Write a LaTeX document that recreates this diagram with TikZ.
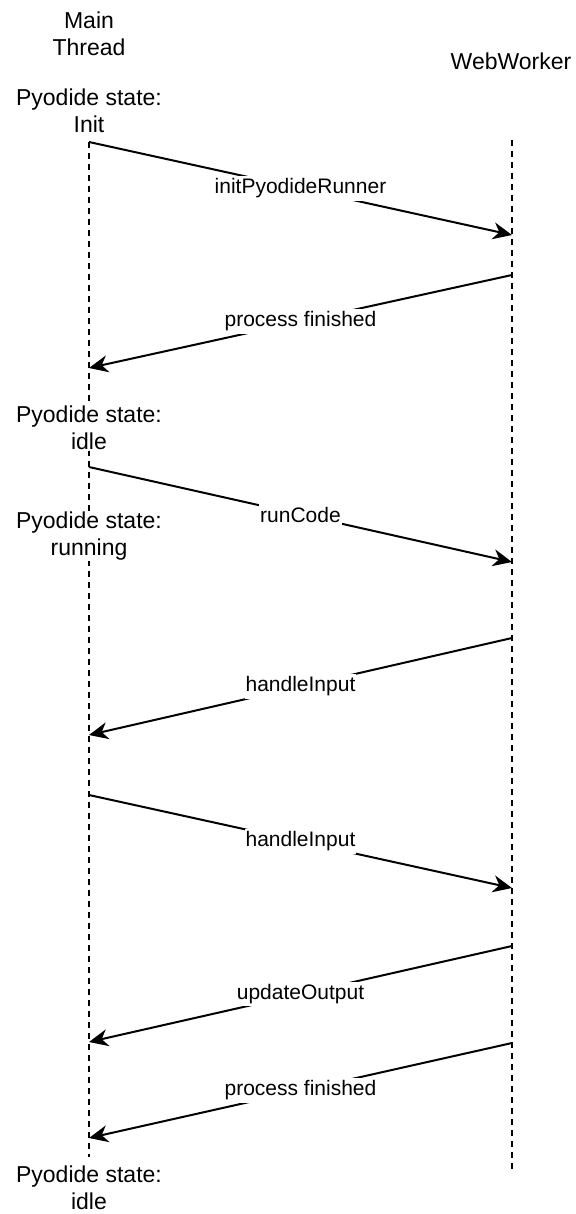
\documentclass[tikz,border=0pt]{standalone}
\usepackage{fontspec}
\setmainfont{Liberation Sans}
\usetikzlibrary{arrows.meta}
\begin{document}
\begin{tikzpicture}[x=1pt,y=-1pt,
  lifeline/.style={line width=1.8pt, dash pattern=on 6pt off 5pt},
  msg/.style={line width=2pt, -{Stealth[length=19pt,width=17pt,inset=6pt]}},
  statelbl/.style={fill=white, inner sep=1pt, align=center, font=\fontsize{23}{26.5}\selectfont},
  headlbl/.style={inner sep=1pt, align=center, font=\fontsize{23}{26.5}\selectfont},
  msglbl/.style={fill=white, inner xsep=1pt, inner ysep=2.5pt, font=\fontsize{21}{24}\selectfont}
]
\useasboundingbox (0,0) rectangle (575,1214);
% lifelines
\coordinate (mtop) at (89,142);
\coordinate (mbot) at (89,1157);
\coordinate (wtop) at (512,140);
\coordinate (wbot) at (512,1172);
\draw[lifeline] (mtop) -- (mbot);
\draw[lifeline] (wtop) -- (wbot);
% headers
\node[headlbl] (main) at (89,34) {Main\\Thread};
\node[headlbl] (worker) at (511,61) {WebWorker};
% states
\node[statelbl] (sinit) at (89,111) {Pyodide state:\\Init};
\node[statelbl] (sidle) at (89,428) {Pyodide state:\\idle};
\node[statelbl] (srun) at (89,536) {Pyodide state:\\running};
\node[statelbl] (sidle2) at (89,1188) {Pyodide state:\\idle};
% message endpoints
\coordinate (a1s) at (89,142);  \coordinate (a1e) at (512,235);
\coordinate (a2s) at (512,275); \coordinate (a2e) at (89,368);
\coordinate (a3s) at (89,467);  \coordinate (a3e) at (512,562);
\coordinate (a4s) at (512,638); \coordinate (a4e) at (89,735);
\coordinate (a5s) at (89,795);  \coordinate (a5e) at (512,888);
\coordinate (a6s) at (512,946); \coordinate (a6e) at (89,1042);
\coordinate (a7s) at (512,1043);\coordinate (a7e) at (89,1138);
% messages
\draw[msg] (a1s) -- node[msglbl] (l1) {initPyodideRunner} (a1e);
\draw[msg] (a2s) -- node[msglbl] (l2) {process finished} (a2e);
\draw[msg] (a3s) -- node[msglbl] (l3) {runCode} (a3e);
\draw[msg] (a4s) -- node[msglbl] (l4) {handleInput} (a4e);
\draw[msg] (a5s) -- node[msglbl] (l5) {handleInput} (a5e);
\draw[msg] (a6s) -- node[msglbl] (l6) {updateOutput} (a6e);
\draw[msg] (a7s) -- node[msglbl] (l7) {process finished} (a7e);
\end{tikzpicture}
\end{document}
